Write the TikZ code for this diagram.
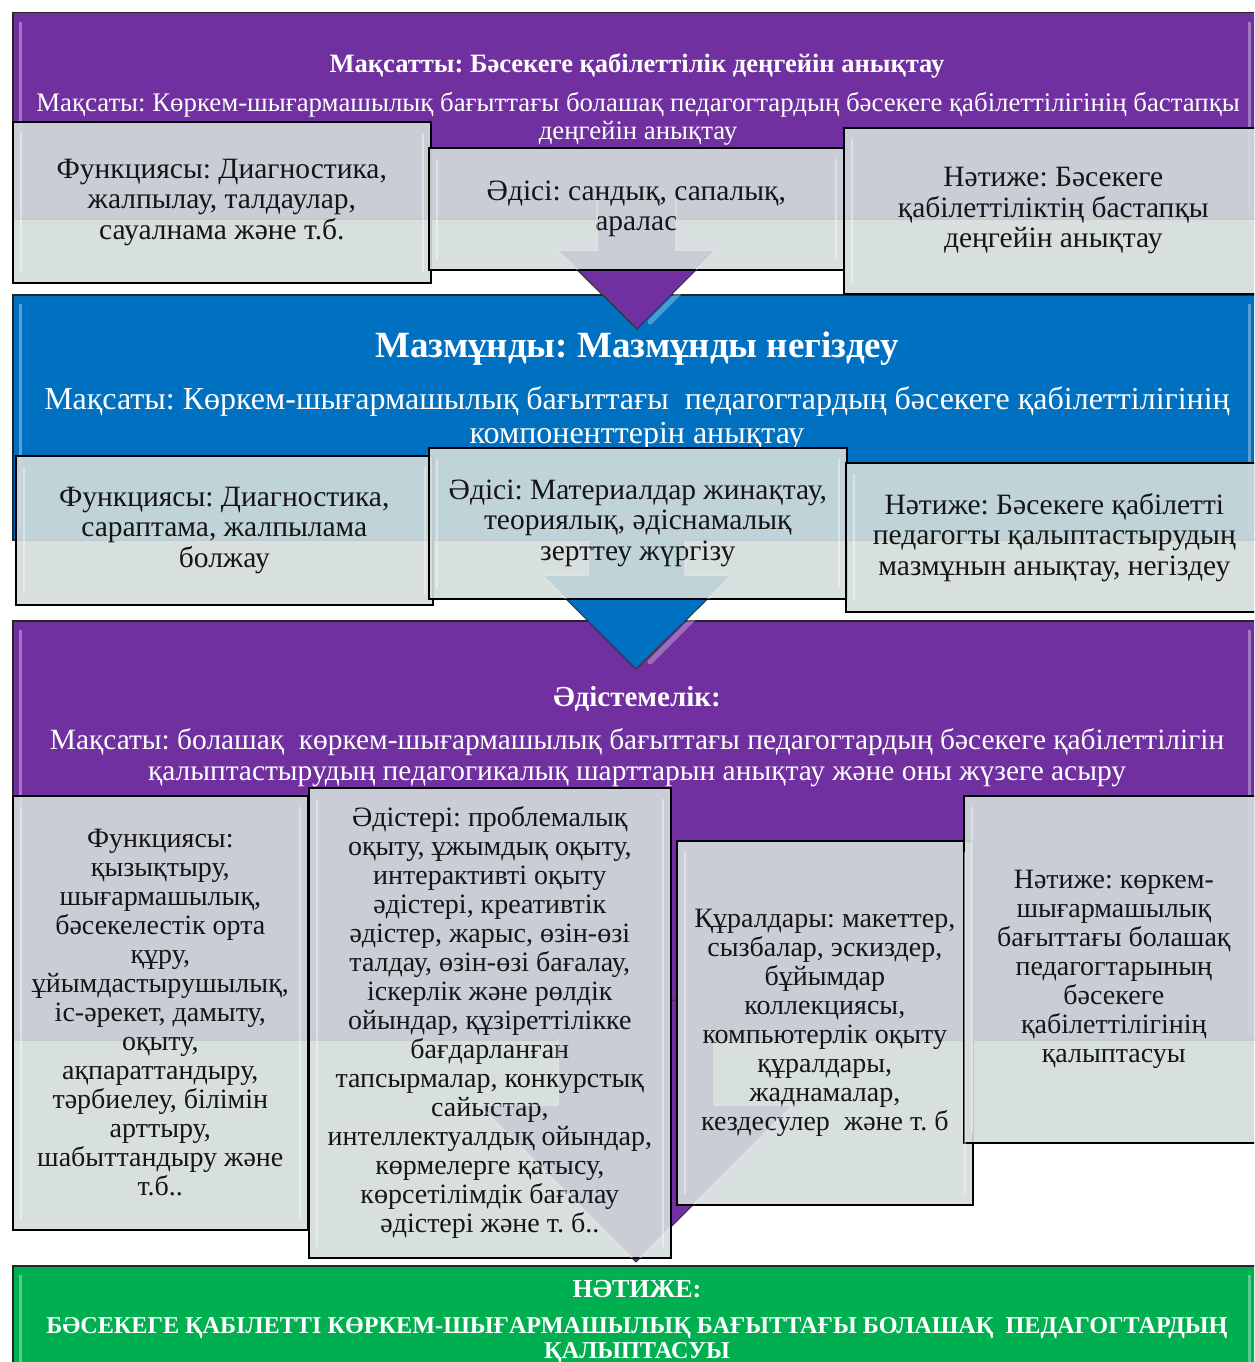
\documentclass[tikz,border=0pt]{standalone}
\usepackage{fontspec}
\setmainfont{Liberation Serif}
\frenchspacing
\definecolor{purp}{HTML}{7030A0}
\definecolor{blu}{HTML}{0070C0}
\definecolor{grn}{HTML}{00B050}
\definecolor{boxfill}{HTML}{D4DDDC}
\definecolor{txt}{HTML}{151515}
\newcommand\bxfontA{\fontsize{29.5}{30.5}\selectfont}
\newcommand\bxfontB{\fontsize{28}{29}\selectfont}
\tikzset{
  panel/.style={draw=black!85, line width=1.5pt, anchor=north west, inner sep=0pt},
  pbevel/.style={white, opacity=0.35, line width=3pt},
  box/.style={draw=black, line width=1.6pt, fill=boxfill, fill opacity=0.91, text opacity=1,
    anchor=north west, inner sep=0pt, align=center, text=txt},
  bevel/.style={white, opacity=0.4, line width=2pt},
  ptext/.style={text=white, align=center, inner sep=0pt},
  arrowline/.style={draw=black!80, line width=1pt},
  ghost/.style={white, opacity=0.4, line width=1.5pt, line join=miter},
  ahl/.style={white, opacity=0.3, line width=5pt, line cap=round}
}
\begin{document}
\begin{tikzpicture}[x=1pt,y=-1pt]
\useasboundingbox (0,0) rectangle (1254,1362);
\clip (0,0) rectangle (1254,1362);
\fill[white] (0,0) rectangle (1254,1362);

% ---------- panels ----------
\node[panel, fill=purp, minimum width=1244pt, minimum height=206pt] (p1) at (12,12) {};
\node[panel, fill=blu,  minimum width=1244pt, minimum height=245pt] (p2) at (12,294) {};
\node[panel, fill=purp, minimum width=1244pt, minimum height=419pt] (p3) at (12,620) {};
\node[panel, fill=grn,  minimum width=1244pt, minimum height=110pt] (p4) at (12,1265) {};
\foreach \p in {p1,p2,p3,p4}{
  \draw[pbevel] ([shift={(8pt,-10pt)}]\p.north west) -- ([shift={(8pt,10pt)}]\p.south west);
  \draw[pbevel] ([shift={(-8pt,-10pt)}]\p.north east) -- ([shift={(-8pt,10pt)}]\p.south east);
}

% ---------- panel texts ----------
\node[ptext, font=\bfseries\fontsize{26.5}{28}\selectfont] (t1) at (637,66) {Мақсатты: Бәсекеге қабілеттілік деңгейін анықтау};
\node[ptext, font=\fontsize{26.8}{28}\selectfont] (s1) at (638,119) {Мақсаты: Көркем-шығармашылық бағыттағы болашақ педагогтардың бәсекеге қабілеттілігінің бастапқы\\деңгейін анықтау};

\node[ptext, font=\bfseries\fontsize{37}{40}\selectfont] (t2) at (637,349) {Мазмұнды: Мазмұнды негіздеу};
\node[ptext, font=\fontsize{32}{34}\selectfont] (s2) at (637,418) {Мақсаты: Көркем-шығармашылық бағыттағы\ \ педагогтардың бәсекеге қабілеттілігінің\\компоненттерін анықтау};

\node[ptext, font=\bfseries\fontsize{29}{30}\selectfont] (t3) at (637,699) {Әдістемелік:};
\node[ptext, font=\fontsize{29.4}{31}\selectfont] (s3) at (637,758) {Мақсаты: болашақ\ \ көркем-шығармашылық бағыттағы педагогтардың бәсекеге қабілеттілігін\\қалыптастырудың педагогикалық шарттарын анықтау және оны жүзеге асыру};

\node[ptext, font=\bfseries\fontsize{26}{26}\selectfont] (t4) at (637,1289) {НӘТИЖЕ:};
\node[ptext, font=\bfseries\fontsize{24.2}{25}\selectfont] (s4) at (637,1341) {БӘСЕКЕГЕ ҚАБІЛЕТТІ КӨРКЕМ-ШЫҒАРМАШЫЛЫҚ БАҒЫТТАҒЫ БОЛАШАҚ\ \ ПЕДАГОГТАРДЫҢ\\ҚАЛЫПТАСУЫ};

% ---------- arrows ----------
\path[fill=purp, arrowline] (597,200) -- (676,200) -- (676,250) -- (716,250) -- (637,329) -- (557,250) -- (597,250) -- cycle;
\draw[ahl] (688,284) -- (650,322);
\path[fill=blu, arrowline] (588,520) -- (685,520) -- (685,575) -- (732,575) -- (636,669) -- (542,575) -- (588,575) -- cycle;
\draw[ahl] (700,612) -- (650,662);
\path[fill=purp, arrowline] (558,1000) -- (714,1000) -- (714,1105) -- (793,1105) -- (636,1262) -- (479,1105) -- (558,1105) -- cycle;

% ---------- row 1 ----------
\node[box, font=\bxfontA, minimum width=418pt, minimum height=161pt] (a) at (12,121)
  {Функциясы: Диагностика,\\жалпылау, талдаулар,\\сауалнама және т.б.};
\node[box, font=\bxfontA, minimum width=415pt, minimum height=122pt] (b) at (428,147)
  {Әдісі: сандық, сапалық,\\аралас};
\node[box, font=\bxfontA, minimum width=419pt, minimum height=166pt] (c) at (843,127)
  {Нәтиже: Бәсекеге\\қабілеттіліктің бастапқы\\деңгейін анықтау};

% ---------- row 2 ----------
\node[box, font=\bxfontA, minimum width=417pt, minimum height=149pt] (d) at (15,455)
  {Функциясы: Диагностика,\\сараптама, жалпылама\\болжау};
\node[box, font=\bxfontA, minimum width=418pt, minimum height=151pt] (e) at (428,447)
  {Әдісі: Материалдар жинақтау,\\теориялық, әдіснамалық\\зерттеу жүргізу};
\node[box, font=\bxfontA, minimum width=417pt, minimum height=149pt] (f) at (845,462)
  {Нәтиже: Бәсекеге қабілетті\\педагогты қалыптастырудың\\мазмұнын анықтау, негіздеу};

% ---------- row 3 ----------
\node[box, font=\bxfontB, minimum width=295pt, minimum height=434pt] (g) at (12,795)
  {Функциясы:\\қызықтыру,\\шығармашылық,\\бәсекелестік орта\\құру,\\ұйымдастырушылық,\\іс-әрекет, дамыту,\\оқыту,\\ақпараттандыру,\\тәрбиелеу, білімін\\арттыру,\\шабыттандыру және\\т.б..};
\node[box, font=\bxfontB, minimum width=362pt, minimum height=470pt] (h) at (308,787)
  {Әдістері: проблемалық\\оқыту, ұжымдық оқыту,\\интерактивті оқыту\\әдістері, креативтік\\әдістер, жарыс, өзін-өзі\\талдау, өзін-өзі бағалау,\\іскерлік және рөлдік\\ойындар, құзіреттілікке\\бағдарланған\\тапсырмалар, конкурстық\\сайыстар,\\интеллектуалдық ойындар,\\көрмелерге қатысу,\\көрсетілімдік бағалау\\әдістері және т. б..};
\node[box, font=\bxfontB, minimum width=296pt, minimum height=364pt] (i) at (676,840)
  {Құралдары: макеттер,\\сызбалар, эскиздер,\\бұйымдар\\коллекциясы,\\компьютерлік оқыту\\құралдары,\\жаднамалар,\\кездесулер\ \ және т. б};
\node[box, font=\bxfontB, minimum width=300pt, minimum height=347pt] (j) at (963,795)
  {Нәтиже: көркем-\\шығармашылық\\бағыттағы болашақ\\педагогтарының\\бәсекеге\\қабілеттілігінің\\қалыптасуы};

% box bevels
\foreach \b in {a,b,c,d,e,f,g,h,i,j}{
  \draw[bevel] ([shift={(9pt,-12pt)}]\b.north west) -- ([shift={(9pt,12pt)}]\b.south west);
  \draw[bevel] ([shift={(-9pt,-12pt)}]\b.north east) -- ([shift={(-9pt,12pt)}]\b.south east);
}

% ghost outlines of arrows seen through the boxes
\begin{scope}
  \clip (0,147) rectangle (1254,269);
  \draw[ghost] (597,200) -- (597,250) -- (557,250) -- (578,270);
  \draw[ghost] (676,200) -- (676,250) -- (716,250) -- (696,270);
\end{scope}
\begin{scope}
  \clip (0,447) rectangle (1254,598);
  \draw[ghost] (588,540) -- (588,575) -- (542,575) -- (566,599);
  \draw[ghost] (685,540) -- (685,575) -- (732,575) -- (708,599);
\end{scope}
\begin{scope}
  \clip (308,1039) rectangle (972,1257);
  \draw[ghost] (558,1039) -- (558,1105) -- (479,1105) -- (636,1262) -- (670,1228);
  \draw[ghost] (714,1039) -- (714,1105) -- (793,1105) -- (694,1204);
\end{scope}

\end{tikzpicture}
\end{document}
